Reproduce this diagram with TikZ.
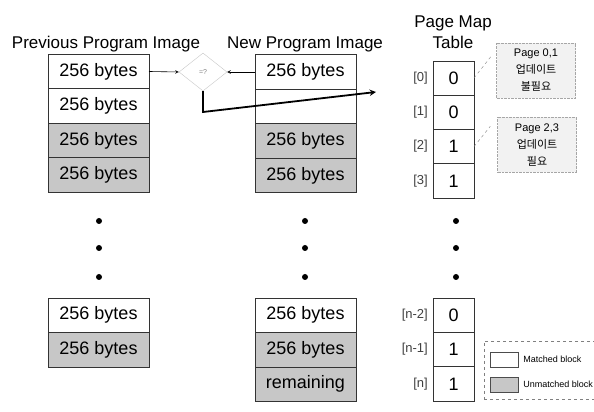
\documentclass[tikz,border=0pt]{standalone}
\usepackage{fontspec}
\setmainfont{Liberation Sans}
\newfontfamily\krfont{Noto Sans CJK KR}
\usepackage{xcolor}
\usepackage{tikz}
\usetikzlibrary{arrows,positioning,shapes,calc}

\begin{document}
\begin{tikzpicture}[x=1pt, y=1pt, node distance=0pt,
    blk/.style={draw=black!80, line width=0.6pt, minimum width=101pt, minimum height=34.5pt, inner sep=0pt, outer sep=0pt, font=\fontsize{18}{20}\selectfont},
    unm/.style={blk, fill=black!22},
    cell/.style={draw=black!80, line width=0.6pt, minimum width=41pt, minimum height=34.3pt, inner sep=0pt, outer sep=0pt, font=\fontsize{18}{20}\selectfont},
    idx/.style={inner sep=1pt, font=\fontsize{13}{15}\selectfont, text=black!75},
    title/.style={anchor=base, font=\fontsize{17}{19}\selectfont},
    note/.style={draw=gray!70, densely dotted, fill=black!5, align=center, inner sep=2pt, minimum width=79pt, minimum height=55pt, font=\fontsize{11}{17}\selectfont},
    dot/.style={circle, fill=black, inner sep=0pt, minimum size=6pt}]

    \clip (0,0) rectangle (594,412);

    % Titles
    \node[title] (tprev) at (106,363) {Previous Program Image};
    \node[title] (tnew) at (305,363) {New Program Image};
    \node[title] (tmap) at (453,384) {Page Map};
    \node[title] (ttab) at (453,363) {Table};

    % Previous program image
    \node[blk] (p1) at (98.5,340.5) {256 bytes};
    \node[blk, below=of p1] (p2) {256 bytes};
    \node[unm, below=of p2] (p3) {256 bytes};
    \node[unm, below=of p3] (p4) {256 bytes};
    \node[blk] (p5) at (98.5,96.75) {256 bytes};
    \node[unm, below=of p5] (p6) {256 bytes};

    % New program image
    \node[blk] (n1) at (305.5,340) {256 bytes};
    \node[blk, below=of n1] (n2) {};
    \node[unm, below=of n2] (n3) {256 bytes};
    \node[unm, below=of n3] (n4) {256 bytes};
    \node[blk] (n5) at (305.5,96.75) {256 bytes};
    \node[unm, below=of n5] (n6) {256 bytes};
    \node[unm, below=of n6] (n7) {remaining};

    % Page map table
    \node[cell] (t0) at (453.5,334) {0};
    \node[cell, below=of t0] (t1) {0};
    \node[cell, below=of t1] (t2) {1};
    \node[cell, below=of t2] (t3) {1};
    \node[cell] (tn2) at (453.5,96.75) {0};
    \node[cell, below=of tn2] (tn1) {1};
    \node[cell, below=of tn1] (tn) {1};
    \node[idx, left=4pt of t0] (i0) {[0]};
    \node[idx, left=4pt of t1] (i1) {[1]};
    \node[idx, left=4pt of t2] (i2) {[2]};
    \node[idx, left=4pt of t3] (i3) {[3]};
    \node[idx, left=4pt of tn2] (in2) {[n-2]};
    \node[idx, left=4pt of tn1] (in1) {[n-1]};
    \node[idx, left=4pt of tn] (in) {[n]};

    % Dots
    \foreach \y [count=\i] in {191,164,135} {
        \node[dot] (pd\i) at (99,\y) {};
        \node[dot] (nd\i) at (305,\y) {};
        \node[dot] (td\i) at (456,\y) {};
    }

    % Compare
    \node[diamond, draw=gray!45, minimum width=48pt, minimum height=38pt, inner sep=0pt, text=gray, font=\fontsize{7}{8}\selectfont] (cmp) at (203,340) {=?};
    \draw[-stealth, line width=0.6pt] (p1.east) -- (cmp.west);
    \draw[-stealth, line width=0.6pt] (n1.west) -- (cmp.east);
    \coordinate (turn) at (203,300);
    \coordinate (tip) at (376,320);
    \draw[-stealth, line width=1.8pt] (cmp.south) -- (turn) -- (tip);

    % Notes
    \node[note] (c1) at (536,341.5) {Page 0,1\\{\krfont 업데이트}\\{\krfont 불필요}};
    \node[note] (c2) at (537,267) {Page 2,3\\{\krfont 업데이트}\\{\krfont 필요}};
    \draw[gray, dashed, thin] (t0.east) -- ($(c1.north west)+(-4,-12)$);
    \draw[gray, dashed, thin] (t2.east) -- ($(c2.north west)+(-7,-9)$);

    % Legend
    \node[draw=gray, dashed, minimum width=120pt, minimum height=58pt, inner sep=0pt] (leg) at (544,42) {};
    \node[draw=black!70, minimum width=28pt, minimum height=15pt, inner sep=0pt] (sw1) at (504,52.5) {};
    \node[draw=black!70, fill=black!22, minimum width=28pt, minimum height=15pt, inner sep=0pt] (sw2) at (504,27.5) {};
    \node[right=4pt of sw1, inner sep=1pt, font=\fontsize{9}{10}\selectfont] (lm) {Matched block};
    \node[right=4pt of sw2, inner sep=1pt, font=\fontsize{9}{10}\selectfont] (lu) {Unmatched block};
\end{tikzpicture}
\end{document}
